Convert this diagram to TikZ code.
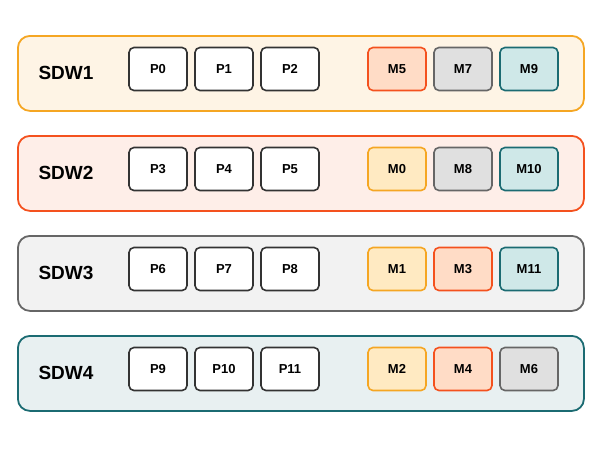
\documentclass[tikz,border=0pt]{standalone}
\usepackage{fontspec}
\setmainfont{Liberation Sans}
\begin{document}
\begin{tikzpicture}[x=1pt,y=-1pt,
 row/.style={draw,line width=1.8pt,rounded corners=12pt,minimum width=566pt,minimum height=75pt,anchor=north west},
 cell/.style={draw,line width=1.6pt,rounded corners=5pt,minimum width=58pt,minimum height=43pt,font=\bfseries\fontsize{13}{15}\selectfont},
 pb/.style={cell,draw=black!80,fill=white},
 my/.style={cell,draw=cy,fill=fy},
 mo/.style={cell,draw=co,fill=fo},
 mg/.style={cell,draw=cg,fill=fg},
 mt/.style={cell,draw=ct,fill=ft},
 lab/.style={font=\bfseries\fontsize{19}{22}\selectfont}]
\definecolor{cy}{HTML}{F5A623}\definecolor{fy}{HTML}{FFEAC2}
\definecolor{co}{HTML}{F4511E}\definecolor{fo}{HTML}{FFDCC6}
\definecolor{cg}{HTML}{666666}\definecolor{fg}{HTML}{E0E0E0}
\definecolor{ct}{HTML}{1B6B72}\definecolor{ft}{HTML}{CFE8E8}
\useasboundingbox (0,0) rectangle (600,451);
\fill[white] (0,0) rectangle (600,451);
\node[row,draw=cy,fill=cy!12] (r1) at (17,35) {};
\node[row,draw=co,fill=co!10] (r2) at (17,135) {};
\node[row,draw=cg,fill=black!5] (r3) at (17,235) {};
\node[row,draw=ct,fill=ct!10] (r4) at (17,335) {};
\foreach \r/\y/\n in {1/73/SDW1,2/173/SDW2,3/273/SDW3,4/373/SDW4}
  \node[lab] (l\r) at (66,\y) {\n};
\node[pb] (p0) at (158,69) {P0}; \node[pb] (p1) at (224,69) {P1}; \node[pb] (p2) at (290,69) {P2};
\node[mo] (m5) at (397,69) {M5}; \node[mg] (m7) at (463,69) {M7}; \node[mt] (m9) at (529,69) {M9};
\node[pb] (p3) at (158,169) {P3}; \node[pb] (p4) at (224,169) {P4}; \node[pb] (p5) at (290,169) {P5};
\node[my] (m0) at (397,169) {M0}; \node[mg] (m8) at (463,169) {M8}; \node[mt] (m10) at (529,169) {M10};
\node[pb] (p6) at (158,269) {P6}; \node[pb] (p7) at (224,269) {P7}; \node[pb] (p8) at (290,269) {P8};
\node[my] (m1) at (397,269) {M1}; \node[mo] (m3) at (463,269) {M3}; \node[mt] (m11) at (529,269) {M11};
\node[pb] (p9) at (158,369) {P9}; \node[pb] (p10) at (224,369) {P10}; \node[pb] (p11) at (290,369) {P11};
\node[my] (m2) at (397,369) {M2}; \node[mo] (m4) at (463,369) {M4}; \node[mg] (m6) at (529,369) {M6};
\end{tikzpicture}
\end{document}
